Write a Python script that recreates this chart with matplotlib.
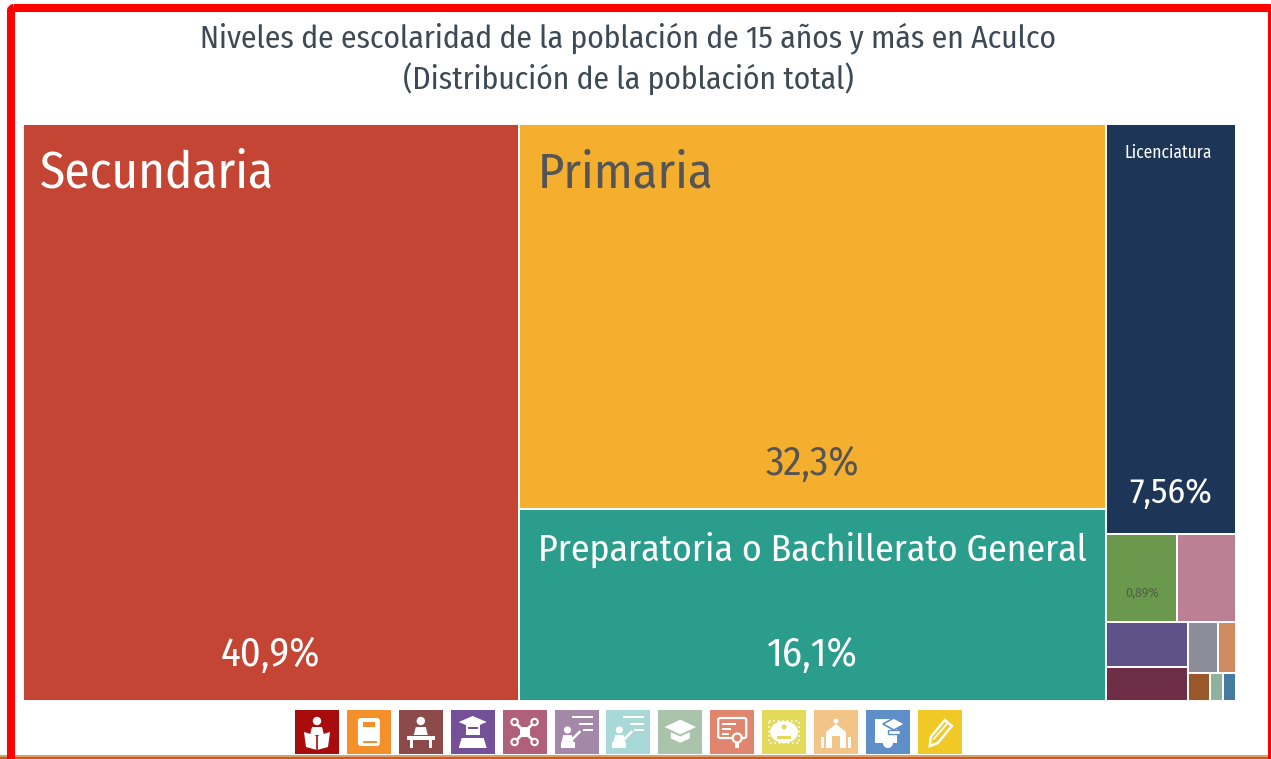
#Treemap de escolaridad en Aculco
import matplotlib
matplotlib.use("Agg")
import matplotlib.pyplot as plt
from matplotlib import font_manager
from matplotlib.patches import Rectangle, Circle, Polygon, FancyBboxPatch, Ellipse

# Datos (porcentaje de la poblacion)
categorias = ["Secundaria", "Primaria", "Preparatoria o Bachillerato General", "Licenciatura",
              "Carrera técnica", "Normal", "Sin escolaridad", "Maestría", "Preescolar",
              "Estudios técnicos", "Doctorado", "Normal básica", "No especificado"]
valores = [40.9, 32.3, 16.1, 7.56, 0.89, 0.73, 0.52, 0.40, 0.22, 0.13, 0.09, 0.05, 0.05]
colores = ["#C44533", "#F5AF2E", "#2A9D8C", "#1D3557", "#6A994E", "#BC8095", "#5F5289",
           "#6D2E46", "#8D8D99", "#D08C60", "#99582A", "#8FB29C", "#457B9D"]
etiquetas = ["40,9%", "32,3%", "16,1%", "7,56%", "0,89%", "", "", "", "", "", "", "", ""]
colores_icono = ["#A80C0C", "#F58F29", "#8C4A4A", "#735097", "#B0607A", "#A388A8", "#A8D8D8",
                 "#A9C4AB", "#E0866E", "#E3D95A", "#F2C488", "#5F8FC8", "#F0C926"]

# Arbol del treemap: indices de categorias, cada nivel alterna el sentido del corte
arbol = [0, [1, 2], [3, [4, 5], [[6, 7], [[8, 9], [10, 11, 12]]]]]

disponibles = {f.name for f in font_manager.fontManager.ttflist}
fuente = "Roboto"
for nombre in ["Fira Sans Condensed", "Roboto Condensed", "Liberation Sans Narrow"]:
    if nombre in disponibles:
        fuente = nombre
        break
plt.rcParams["font.family"] = [fuente, "DejaVu Sans"]

fig = plt.figure(figsize=(12.71, 7.59), dpi=100)
ax = fig.add_axes([0, 0, 1, 1])
ax.set_xlim(0, 1271)
ax.set_ylim(759, 0)
ax.axis("off")


def suma(nodo):
    if isinstance(nodo, list):
        return sum(suma(n) for n in nodo)
    return valores[nodo]


cajas = {}


def reparte(nodo, x, y, w, h, horizontal):
    if not isinstance(nodo, list):
        cajas[nodo] = (x, y, w, h)
        return
    total = suma(nodo)
    for n in nodo:
        parte = suma(n) / total
        if horizontal:
            reparte(n, x, y, w * parte, h, False)
            x += w * parte
        else:
            reparte(n, x, y, w, h * parte, True)
            y += h * parte


reparte(arbol, 22.5, 123.5, 1213, 577.5, True)

for i in range(len(valores)):
    x, y, w, h = cajas[i]
    ax.add_patch(Rectangle((x, y), w, h, fc=colores[i], ec="white", lw=1.4))

# Textos
gris = "#555555"
x, y, w, h = cajas[0]
ax.text(x + 17.5, y + 50, categorias[0], fontsize=36.8, color="white", ha="left", va="center")
ax.text(x + w / 2, y + h - 46, etiquetas[0], fontsize=29.3, color="white", ha="center", va="center")
x, y, w, h = cajas[1]
ax.text(x + 19, y + 50, categorias[1], fontsize=36.4, color=gris, ha="left", va="center")
ax.text(x + w / 2, y + h - 45, etiquetas[1], fontsize=29.3, color=gris, ha="center", va="center")
x, y, w, h = cajas[2]
ax.text(x + w / 2, y + 41, categorias[2], fontsize=27.2, color="white", ha="center", va="center")
ax.text(x + w / 2, y + h - 46, etiquetas[2], fontsize=29.3, color="white", ha="center", va="center")
x, y, w, h = cajas[3]
ax.text(x + w / 2 - 3, y + 29, categorias[3], fontsize=12.6, color="white", ha="center", va="center")
ax.text(x + w / 2, y + h - 41, etiquetas[3], fontsize=25.8, color="white", ha="center", va="center")
x, y, w, h = cajas[4]
ax.text(x + w / 2, y + h * 0.675, etiquetas[4], fontsize=9.8, color="#4F5F45", ha="center", va="center")

ax.text(628, 38.5, "Niveles de escolaridad de la población de 15 años y más en Aculco",
        fontsize=22.75, color="#3D4A55", ha="center", va="center")
ax.text(628, 78.5, "(Distribución de la población total)", fontsize=22.75, color="#3D4A55",
        ha="center", va="center")


# Iconos de la leyenda, dibujados sobre un cuadro de 44 px
def persona(px, py, e=1.0):
    ax.add_patch(Circle((px, py), 4.2 * e, fc="white", ec="none", zorder=4))
    ax.add_patch(Polygon([(px - 7 * e, py + 14 * e), (px - 5 * e, py + 6 * e), (px + 5 * e, py + 6 * e),
                          (px + 7 * e, py + 14 * e)], fc="white", ec="none", zorder=4))


def birrete(px, py, e=1.0):
    ax.add_patch(Polygon([(px - 15 * e, py), (px, py - 7 * e), (px + 15 * e, py), (px, py + 7 * e)],
                         fc="white", ec="none", zorder=4))
    ax.add_patch(Polygon([(px - 9 * e, py + 5 * e), (px, py + 9 * e), (px + 9 * e, py + 5 * e),
                          (px + 9 * e, py + 11 * e), (px, py + 15 * e), (px - 9 * e, py + 11 * e)],
                         fc="white", ec="none", zorder=4))


def lineas(px, py, anchos, paso=6):
    for k, a in enumerate(anchos):
        ax.add_patch(Rectangle((px, py + k * paso), a, 2, fc="white", ec="none", zorder=4))


def icono(n, x0, y0):
    c = colores_icono[n]
    cx, cy = x0 + 22, y0 + 22
    if n == 0:
        persona(cx, y0 + 11, 1.0)
        ax.add_patch(Polygon([(cx - 13, cy), (cx, cy + 4), (cx + 13, cy), (cx + 11, cy + 15), (cx, cy + 18),
                              (cx - 11, cy + 15)], fc="white", ec="none", zorder=4))
        ax.plot([cx, cx], [cy + 4, cy + 18], color=c, lw=1.2, zorder=5)
    elif n == 1:
        ax.add_patch(FancyBboxPatch((x0 + 11, y0 + 8), 22, 28, boxstyle="round,pad=0,rounding_size=3",
                                    fc="white", ec="none", zorder=4))
        ax.add_patch(Rectangle((x0 + 16, y0 + 12), 12, 5, fc=c, ec="none", zorder=5))
        ax.add_patch(Rectangle((x0 + 16, y0 + 31), 14, 2, fc=c, ec="none", zorder=5))
    elif n == 2:
        persona(cx, y0 + 11, 1.0)
        ax.add_patch(Rectangle((x0 + 8, y0 + 26), 28, 3.5, fc="white", ec="none", zorder=5))
        ax.add_patch(Rectangle((x0 + 11, y0 + 29), 3, 9, fc="white", ec="none", zorder=5))
        ax.add_patch(Rectangle((x0 + 30, y0 + 29), 3, 9, fc="white", ec="none", zorder=5))
    elif n == 3:
        ax.add_patch(Polygon([(cx - 14, y0 + 12), (cx, y0 + 6), (cx + 14, y0 + 12), (cx, y0 + 18)],
                             fc="white", ec="none", zorder=4))
        ax.add_patch(Rectangle((cx - 7, y0 + 15), 14, 10, fc="white", ec="none", zorder=4))
        ax.add_patch(Rectangle((cx - 5, y0 + 17), 10, 2, fc=c, ec="none", zorder=5))
        ax.add_patch(Polygon([(cx - 14, y0 + 38), (cx - 11, y0 + 28), (cx + 11, y0 + 28), (cx + 14, y0 + 38)],
                             fc="white", ec="none", zorder=4))
    elif n == 4:
        ax.plot([x0 + 12, x0 + 32], [y0 + 12, y0 + 32], color="white", lw=2, zorder=4)
        ax.plot([x0 + 12, x0 + 32], [y0 + 32, y0 + 12], color="white", lw=2, zorder=4)
        ax.add_patch(Rectangle((cx - 5, cy - 5), 10, 10, fc="white", ec="none", zorder=5))
        for dx, dy in [(-10, -10), (10, -10), (-10, 10), (10, 10)]:
            ax.add_patch(Circle((cx + dx, cy + dy), 3.2, fc=c, ec="white", lw=1.5, zorder=5))
    elif n in (5, 6):
        persona(x0 + 13, y0 + 20, 0.85)
        ax.add_patch(Rectangle((x0 + 6, y0 + 32), 14, 6, fc="white", ec="none", zorder=4))
        ax.plot([x0 + 17, x0 + 25], [y0 + 30, y0 + 22], color="white", lw=1.8, zorder=4)
        lineas(x0 + 17, y0 + 6, [21])
        lineas(x0 + 24, y0 + 13, [14])
        lineas(x0 + 28, y0 + 19, [10])
    elif n == 7:
        birrete(cx, y0 + 17, 1.05)
    elif n == 8:
        ax.add_patch(FancyBboxPatch((x0 + 8, y0 + 8), 28, 20, boxstyle="round,pad=0,rounding_size=2",
                                    fc=c, ec="white", lw=1.6, zorder=4))
        lineas(x0 + 12, y0 + 13, [14, 9, 7], 5)
        ax.add_patch(Circle((x0 + 27, y0 + 28), 4.5, fc=c, ec="white", lw=1.6, zorder=5))
        ax.add_patch(Rectangle((x0 + 25, y0 + 32), 4, 6, fc="white", ec="none", zorder=4))
    elif n == 9:
        ax.add_patch(Ellipse((cx, cy), 28, 22, fc="white", ec="none", zorder=4))
        ax.add_patch(Rectangle((x0 + 7, y0 + 11), 30, 22, fc="none", ec="white", lw=1.2, ls=":", zorder=4))
        ax.add_patch(Circle((cx, y0 + 17), 2.5, fc=c, ec="none", zorder=5))
        ax.add_patch(Rectangle((cx - 7, y0 + 26), 14, 3, fc=c, ec="none", zorder=5))
    elif n == 10:
        ax.add_patch(Polygon([(cx - 10, y0 + 38), (cx - 10, y0 + 22), (cx, y0 + 14), (cx + 10, y0 + 22),
                              (cx + 10, y0 + 38)], fc="white", ec="none", zorder=4))
        ax.add_patch(Rectangle((cx - 4, y0 + 26), 8, 12, fc=c, ec="none", zorder=5))
        ax.add_patch(Circle((cx, y0 + 11), 2.5, fc="white", ec="none", zorder=4))
        ax.add_patch(Rectangle((x0 + 7, y0 + 27), 3, 11, fc="white", ec="none", zorder=4))
        ax.add_patch(Rectangle((x0 + 34, y0 + 27), 3, 11, fc="white", ec="none", zorder=4))
    elif n == 11:
        ax.add_patch(Rectangle((x0 + 9, y0 + 9), 22, 24, fc="white", ec="none", zorder=4))
        ax.add_patch(Circle((x0 + 22, y0 + 33), 5, fc="white", ec="none", zorder=4))
        ax.add_patch(Polygon([(x0 + 17, y0 + 14), (x0 + 28, y0 + 8), (x0 + 39, y0 + 14), (x0 + 28, y0 + 20)],
                             fc="white", ec=c, lw=1.2, zorder=5))
        ax.add_patch(Rectangle((x0 + 22, y0 + 20), 12, 4, fc="white", ec=c, lw=1, zorder=5))
    else:
        # lapiz: contorno con punta
        ax.add_patch(Polygon([(x0 + 12, y0 + 36), (x0 + 13, y0 + 27), (x0 + 27, y0 + 10), (x0 + 34, y0 + 16),
                              (x0 + 20, y0 + 33)], fc=c, ec="white", lw=1.8, zorder=4))
        ax.plot([x0 + 16, x0 + 29], [y0 + 29, y0 + 14], color="white", lw=1.2, zorder=5)


for n in range(len(colores_icono)):
    x0 = 295 + n * 51.9
    ax.add_patch(Rectangle((x0, 710), 44, 44, fc=colores_icono[n], ec="none", zorder=3))
    icono(n, x0, 710)

# Marco rojo y linea inferior
ax.add_patch(Rectangle((0, 755), 1271, 1.5, fc="#D9A066", ec="none", zorder=6))
ax.add_patch(Rectangle((0, 756.5), 1271, 3, fc="#D9541E", ec="none", zorder=6))
ax.add_patch(FancyBboxPatch((11, 8), 1261, 770, boxstyle="round,pad=0,rounding_size=3",
                            fc="none", ec="#FF0000", lw=5.8, zorder=7))

fig.savefig("out.png", dpi=100)
